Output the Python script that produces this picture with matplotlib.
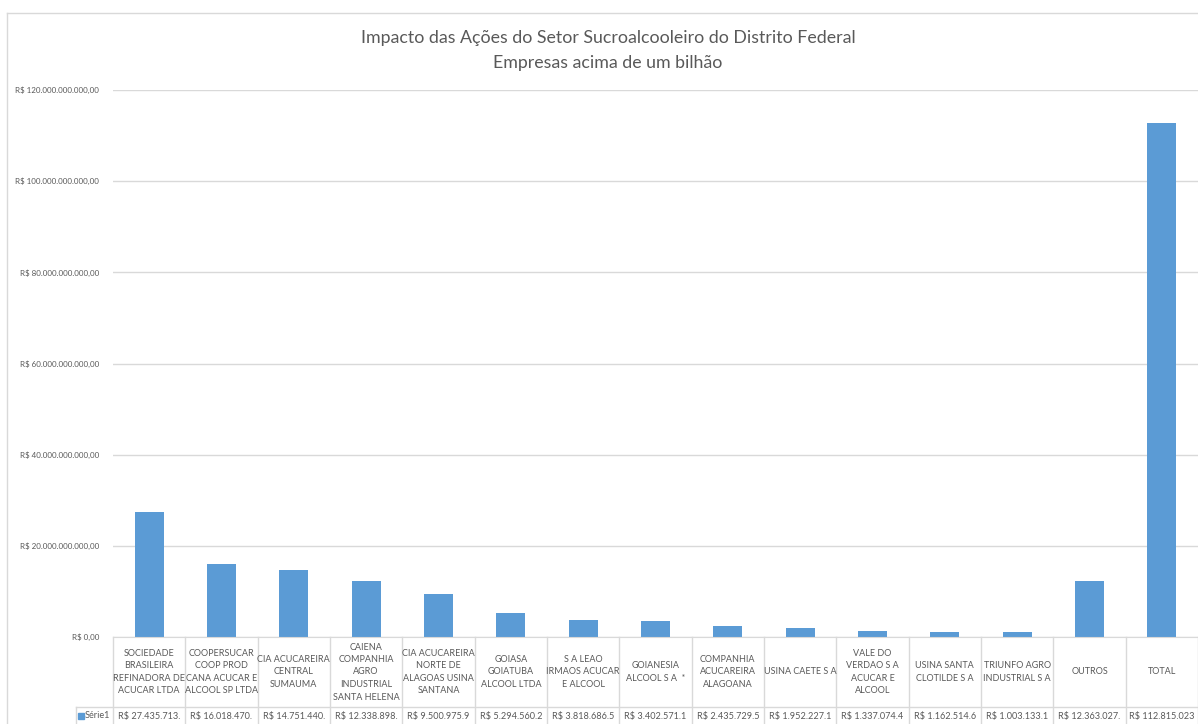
import matplotlib
matplotlib.use("Agg")
import matplotlib.pyplot as plt
from matplotlib.transforms import blended_transform_factory
from matplotlib.patches import Rectangle
from matplotlib.lines import Line2D

# Dados
empresas = [
    "SOCIEDADE\nBRASILEIRA\nREFINADORA DE\nACUCAR LTDA",
    "COOPERSUCAR\nCOOP PROD\nCANA ACUCAR E\nALCOOL SP LTDA",
    "CIA ACUCAREIRA\nCENTRAL\nSUMAUMA",
    "CAIENA\nCOMPANHIA\nAGRO\nINDUSTRIAL\nSANTA HELENA",
    "CIA ACUCAREIRA\nNORTE DE\nALAGOAS USINA\nSANTANA",
    "GOIASA\nGOIATUBA\nALCOOL LTDA",
    "S A LEAO\nIRMAOS ACUCAR\nE ALCOOL",
    "GOIANESIA\nALCOOL S A  *",
    "COMPANHIA\nACUCAREIRA\nALAGOANA",
    "USINA CAETE S A",
    "VALE DO\nVERDAO S A\nACUCAR E\nALCOOL",
    "USINA SANTA\nCLOTILDE S A",
    "TRIUNFO AGRO\nINDUSTRIAL S A",
    "OUTROS",
    "TOTAL",
]
valores = [
    27435713000, 16018470000, 14751440000, 12338898000, 9500975900,
    5294560200, 3818686500, 3402571100, 2435729500, 1952227100,
    1337074400, 1162514600, 1003133100, 12363027000, 112815023000,
]
y_ticks = [0, 20e9, 40e9, 60e9, 80e9, 100e9, 120e9]

plt.rcParams["font.family"] = ["Lato", "DejaVu Sans"]


def moeda(v):
    if v == 0:
        return "R$ 0,00"
    s = f"{v:,.2f}".replace(",", "#").replace(".", ",").replace("#", ".")
    return "R$ " + s


W, H = 1198, 724
fig = plt.figure(figsize=(W / 100, H / 100), dpi=100)
ax = fig.add_axes([113 / W, 1 - 637 / H, (1198 - 113) / W, (637 - 90) / H])

cor_barra = "#5B9BD5"
cinza = "#D9D9D9"
texto = "#595959"

x = list(range(len(valores)))
ax.bar(x, valores, width=0.4, color=cor_barra, zorder=2)
ax.set_xlim(-0.5, len(valores) - 0.5)
ax.set_ylim(0, 120e9)
ax.set_yticks(y_ticks)
ax.set_yticklabels([moeda(v) for v in y_ticks], fontsize=5.8, color=texto)
ax.tick_params(axis="y", length=0, pad=10)
ax.set_xticks([])
ax.grid(axis="y", color=cinza, linewidth=1, zorder=0)
for s in ["top", "right", "left"]:
    ax.spines[s].set_visible(False)
ax.spines["bottom"].set_color(cinza)

# Tabela de dados abaixo do gráfico
tr = blended_transform_factory(ax.transData, fig.transFigure)
ff = fig.transFigure
y_top = 1 - 637 / H
y_mid = 1 - 707 / H
for i in range(len(valores) + 1):
    ax.add_line(Line2D([i - 0.5, i - 0.5], [0, y_top], transform=tr,
                       color=cinza, lw=1, clip_on=False))
fig.add_artist(Line2D([76 / W, 1], [y_mid, y_mid], transform=ff,
                      color=cinza, lw=1))
fig.add_artist(Line2D([76 / W, 76 / W], [0, y_mid], transform=ff,
                      color=cinza, lw=1))

for i, (nome, v) in enumerate(zip(empresas, valores)):
    ax.text(i, 1 - 672 / H, nome, transform=tr, ha="center", va="center",
            fontsize=6.5, color=texto, linespacing=1.5, clip_on=False)
    ax.text(i, 1 - 716 / H, moeda(v)[:14], transform=tr, ha="center",
            va="center", fontsize=6.6, color=texto, clip_on=False)

# Legenda da tabela
fig.add_artist(Rectangle((78 / W, 1 - 719 / H), 6 / W, 6 / H,
                         transform=ff, color=cor_barra))
fig.text(85 / W, 1 - 716 / H, "Série1", ha="left", va="center",
         fontsize=6.6, color=texto)

# Borda da área do gráfico
fig.add_artist(Line2D([7 / W, 1], [1 - 13 / H, 1 - 13 / H], transform=ff,
                      color=cinza, lw=1))
fig.add_artist(Line2D([7 / W, 7 / W], [0, 1 - 13 / H], transform=ff,
                      color=cinza, lw=1))

# Título
fig.text(608 / W, 1 - 38 / H,
         "Impacto das Ações do Setor Sucroalcooleiro do Distrito Federal",
         ha="center", va="center", fontsize=12.8, color=texto)
fig.text(608 / W, 1 - 63 / H, "Empresas acima de um bilhão",
         ha="center", va="center", fontsize=12.8, color=texto)

fig.savefig("out.png", dpi=100)
